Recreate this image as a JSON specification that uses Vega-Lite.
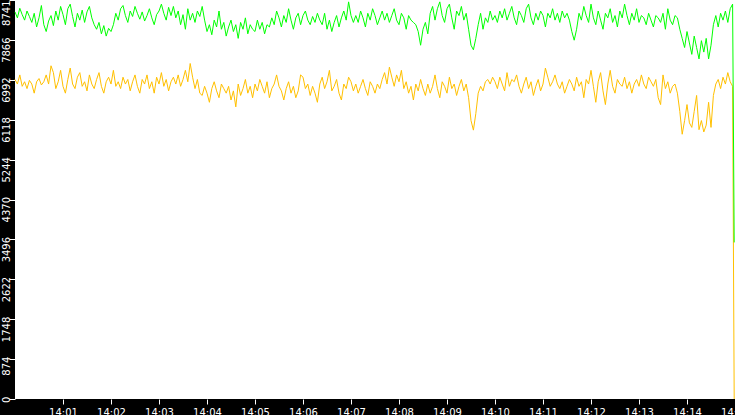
{
  "$schema": "https://vega.github.io/schema/vega-lite/v6.json",
  "width": 720,
  "height": 399,
  "autosize": {"type": "none"},
  "padding": {"left": 15, "top": 0, "right": 0, "bottom": 16},
  "background": "black",
  "config": {
    "view": {"fill": "white", "stroke": null},
    "axis": {"grid": false, "domain": false}
  },
  "data": {
    "values": [
      {"t":0,"g":8480,"o":7000},{"t":3,"g":8350,"o":6900},{"t":6,"g":8560,"o":7100},{"t":9,"g":8420,"o":6850},{"t":12,"g":8300,"o":6950},
      {"t":15,"g":8500,"o":6800},{"t":18,"g":8380,"o":6980},{"t":21,"g":8250,"o":6900},{"t":24,"g":8450,"o":6700},{"t":27,"g":8150,"o":6950},
      {"t":30,"g":8350,"o":7020},{"t":33,"g":8620,"o":6880},{"t":36,"g":8200,"o":6950},{"t":39,"g":8050,"o":7100},{"t":42,"g":8280,"o":6900},
      {"t":45,"g":8400,"o":7300},{"t":48,"g":8180,"o":7150},{"t":51,"g":8500,"o":6800},{"t":54,"g":8300,"o":6950},{"t":57,"g":8600,"o":7200},
      {"t":60,"g":8420,"o":6850},{"t":63,"g":8200,"o":6700},{"t":66,"g":8550,"o":7000},{"t":69,"g":8650,"o":7250},{"t":72,"g":8380,"o":6900},
      {"t":75,"g":8150,"o":6800},{"t":78,"g":8450,"o":7050},{"t":81,"g":8300,"o":7150},{"t":84,"g":8520,"o":6850},{"t":87,"g":8250,"o":6950},
      {"t":90,"g":8480,"o":6750},{"t":93,"g":8600,"o":7100},{"t":96,"g":8350,"o":6900},{"t":99,"g":8200,"o":6800},{"t":102,"g":8100,"o":7000},
      {"t":105,"g":8250,"o":7150},{"t":108,"g":8000,"o":6850},{"t":111,"g":8180,"o":6700},{"t":114,"g":7950,"o":6950},{"t":117,"g":8120,"o":7050},
      {"t":120,"g":8050,"o":6900},{"t":123,"g":8200,"o":7200},{"t":126,"g":8450,"o":6850},{"t":129,"g":8300,"o":6950},{"t":132,"g":8550,"o":6800},
      {"t":135,"g":8620,"o":7050},{"t":138,"g":8400,"o":6900},{"t":141,"g":8250,"o":7000},{"t":144,"g":8500,"o":6750},{"t":147,"g":8380,"o":6950},
      {"t":150,"g":8600,"o":7100},{"t":153,"g":8450,"o":6850},{"t":156,"g":8320,"o":6700},{"t":159,"g":8480,"o":7000},{"t":162,"g":8280,"o":6900},
      {"t":165,"g":8400,"o":7100},{"t":168,"g":8550,"o":6800},{"t":171,"g":8350,"o":6950},{"t":174,"g":8200,"o":6700},{"t":177,"g":8420,"o":7050},
      {"t":180,"g":8500,"o":6900},{"t":183,"g":8650,"o":7150},{"t":186,"g":8450,"o":6850},{"t":189,"g":8300,"o":7000},{"t":192,"g":8580,"o":6750},
      {"t":195,"g":8400,"o":6950},{"t":198,"g":8600,"o":7050},{"t":201,"g":8350,"o":6900},{"t":204,"g":8500,"o":7100},{"t":207,"g":8200,"o":6850},
      {"t":210,"g":8420,"o":7000},{"t":213,"g":8100,"o":7200},{"t":216,"g":8550,"o":6950},{"t":219,"g":8300,"o":7350},{"t":222,"g":8450,"o":7050},
      {"t":225,"g":8250,"o":6800},{"t":228,"g":8500,"o":7000},{"t":231,"g":8380,"o":6700},{"t":234,"g":8600,"o":6650},{"t":237,"g":8300,"o":6850},
      {"t":240,"g":8050,"o":6700},{"t":243,"g":8200,"o":6500},{"t":246,"g":7980,"o":6800},{"t":249,"g":8300,"o":6950},{"t":252,"g":8150,"o":6750},
      {"t":255,"g":8500,"o":6600},{"t":258,"g":8100,"o":6900},{"t":261,"g":8250,"o":6800},{"t":264,"g":7950,"o":6700},{"t":267,"g":8150,"o":6850},
      {"t":270,"g":8300,"o":6550},{"t":273,"g":8050,"o":6750},{"t":276,"g":8200,"o":6400},{"t":279,"g":7900,"o":6900},{"t":282,"g":8250,"o":6650},
      {"t":285,"g":8100,"o":6800},{"t":288,"g":8350,"o":7000},{"t":291,"g":8000,"o":6700},{"t":294,"g":8200,"o":6850},{"t":297,"g":8100,"o":6600},
      {"t":300,"g":8050,"o":6900},{"t":303,"g":8300,"o":6750},{"t":306,"g":8100,"o":7000},{"t":309,"g":8250,"o":6850},{"t":312,"g":8000,"o":6700},
      {"t":315,"g":8200,"o":6950},{"t":318,"g":8150,"o":6600},{"t":321,"g":8350,"o":6800},{"t":324,"g":8200,"o":6900},{"t":327,"g":8500,"o":7100},
      {"t":330,"g":8350,"o":6850},{"t":333,"g":8150,"o":6750},{"t":336,"g":8400,"o":6550},{"t":339,"g":8250,"o":6800},{"t":342,"g":8550,"o":6950},
      {"t":345,"g":8300,"o":6700},{"t":348,"g":8100,"o":6850},{"t":351,"g":8350,"o":6600},{"t":354,"g":8450,"o":6750},{"t":357,"g":8200,"o":7100},
      {"t":360,"g":8400,"o":7050},{"t":363,"g":8500,"o":6800},{"t":366,"g":8300,"o":6900},{"t":369,"g":8200,"o":6650},{"t":372,"g":8380,"o":6850},
      {"t":375,"g":8250,"o":6700},{"t":378,"g":8450,"o":6500},{"t":381,"g":8300,"o":6900},{"t":384,"g":8200,"o":7050},{"t":387,"g":8450,"o":6800},
      {"t":390,"g":8100,"o":6950},{"t":393,"g":8300,"o":7200},{"t":396,"g":8050,"o":6750},{"t":399,"g":8250,"o":6850},{"t":402,"g":8400,"o":7000},
      {"t":405,"g":8150,"o":6700},{"t":408,"g":8350,"o":6550},{"t":411,"g":8500,"o":6900},{"t":414,"g":8300,"o":6800},{"t":417,"g":8700,"o":7050},
      {"t":420,"g":8400,"o":6950},{"t":423,"g":8250,"o":6750},{"t":426,"g":8400,"o":6900},{"t":429,"g":8250,"o":6700},{"t":432,"g":8500,"o":6850},
      {"t":435,"g":8350,"o":7000},{"t":438,"g":8150,"o":6800},{"t":441,"g":8450,"o":6650},{"t":444,"g":8300,"o":6950},{"t":447,"g":8550,"o":6850},
      {"t":450,"g":8400,"o":6700},{"t":453,"g":8200,"o":6900},{"t":456,"g":8350,"o":6800},{"t":459,"g":8500,"o":7000},{"t":462,"g":8300,"o":7150},
      {"t":465,"g":8450,"o":6900},{"t":468,"g":8250,"o":7270},{"t":471,"g":8400,"o":7050},{"t":474,"g":8550,"o":6850},{"t":477,"g":8300,"o":7100},
      {"t":480,"g":8200,"o":6950},{"t":483,"g":8450,"o":7200},{"t":486,"g":8350,"o":6800},{"t":489,"g":8100,"o":6950},{"t":492,"g":8400,"o":6700},
      {"t":495,"g":8300,"o":6850},{"t":498,"g":8250,"o":6550},{"t":501,"g":8200,"o":6900},{"t":504,"g":8050,"o":6750},{"t":507,"g":7750,"o":7000},
      {"t":510,"g":8100,"o":6800},{"t":513,"g":8250,"o":6650},{"t":516,"g":8000,"o":6900},{"t":519,"g":8450,"o":6700},{"t":522,"g":8600,"o":6850},
      {"t":525,"g":8300,"o":7100},{"t":528,"g":8550,"o":6800},{"t":531,"g":8700,"o":6600},{"t":534,"g":8400,"o":6950},{"t":537,"g":8250,"o":6850},
      {"t":540,"g":8550,"o":6700},{"t":543,"g":8650,"o":7050},{"t":546,"g":8350,"o":6800},{"t":549,"g":8100,"o":6900},{"t":552,"g":8500,"o":6650},
      {"t":555,"g":8400,"o":6850},{"t":558,"g":8600,"o":7000},{"t":561,"g":8300,"o":6750},{"t":564,"g":8450,"o":6900},{"t":567,"g":8100,"o":6600},
      {"t":570,"g":7750,"o":6100},{"t":573,"g":7650,"o":5890},{"t":576,"g":7900,"o":6250},{"t":579,"g":8200,"o":6700},{"t":582,"g":8450,"o":6850},
      {"t":585,"g":8100,"o":6750},{"t":588,"g":8350,"o":6950},{"t":591,"g":8250,"o":7000},{"t":594,"g":8500,"o":6900},{"t":597,"g":8300,"o":7050},
      {"t":600,"g":8400,"o":6950},{"t":603,"g":8250,"o":6800},{"t":606,"g":8500,"o":7050},{"t":609,"g":8350,"o":6900},{"t":612,"g":8550,"o":6750},
      {"t":615,"g":8300,"o":7150},{"t":618,"g":8450,"o":6850},{"t":621,"g":8600,"o":7000},{"t":624,"g":8350,"o":6950},{"t":627,"g":8200,"o":7100},
      {"t":630,"g":8500,"o":6850},{"t":633,"g":8400,"o":6700},{"t":636,"g":8250,"o":6900},{"t":639,"g":8550,"o":7050},{"t":642,"g":8650,"o":6800},
      {"t":645,"g":8350,"o":6950},{"t":648,"g":8200,"o":6650},{"t":651,"g":8450,"o":6850},{"t":654,"g":8300,"o":7000},{"t":657,"g":8500,"o":6750},
      {"t":660,"g":8400,"o":6900},{"t":663,"g":8150,"o":7250},{"t":666,"g":8450,"o":7050},{"t":669,"g":8350,"o":6850},{"t":672,"g":8550,"o":6950},
      {"t":675,"g":8300,"o":7100},{"t":678,"g":8450,"o":6900},{"t":681,"g":8250,"o":6800},{"t":684,"g":8500,"o":6950},{"t":687,"g":8350,"o":6700},
      {"t":690,"g":8450,"o":6850},{"t":693,"g":8300,"o":7000},{"t":696,"g":8050,"o":6900},{"t":699,"g":7860,"o":6750},{"t":702,"g":8100,"o":7050},
      {"t":705,"g":8450,"o":6850},{"t":708,"g":8300,"o":6950},{"t":711,"g":8600,"o":6600},{"t":714,"g":8400,"o":7000},{"t":717,"g":8250,"o":6900},
      {"t":720,"g":8650,"o":7200},{"t":723,"g":8350,"o":6850},{"t":726,"g":8200,"o":6500},{"t":729,"g":8500,"o":6950},{"t":732,"g":8300,"o":7150},
      {"t":735,"g":8100,"o":6750},{"t":738,"g":8450,"o":6450},{"t":741,"g":8350,"o":6900},{"t":744,"g":8550,"o":7200},{"t":747,"g":8250,"o":6850},
      {"t":750,"g":8400,"o":6700},{"t":753,"g":8150,"o":7000},{"t":756,"g":8500,"o":6900},{"t":759,"g":8350,"o":6850},{"t":762,"g":8650,"o":7050},
      {"t":765,"g":8400,"o":6800},{"t":768,"g":8200,"o":6950},{"t":771,"g":8450,"o":6700},{"t":774,"g":8300,"o":6900},{"t":777,"g":8550,"o":7000},
      {"t":780,"g":8250,"o":6850},{"t":783,"g":8400,"o":7100},{"t":786,"g":8350,"o":6900},{"t":789,"g":8200,"o":6800},{"t":792,"g":8450,"o":7050},
      {"t":795,"g":8300,"o":6950},{"t":798,"g":8150,"o":6850},{"t":801,"g":8400,"o":7000},{"t":804,"g":8350,"o":6600},{"t":807,"g":8250,"o":6450},
      {"t":810,"g":8450,"o":7100},{"t":813,"g":8100,"o":6800},{"t":816,"g":8550,"o":6950},{"t":819,"g":8300,"o":6700},{"t":822,"g":8200,"o":6850},
      {"t":825,"g":8400,"o":6900},{"t":828,"g":8350,"o":6700},{"t":831,"g":8100,"o":6300},{"t":834,"g":7900,"o":5800},{"t":837,"g":7700,"o":6100},
      {"t":840,"g":8050,"o":6450},{"t":843,"g":7800,"o":6050},{"t":846,"g":7550,"o":5950},{"t":849,"g":7950,"o":6300},{"t":852,"g":7700,"o":6650},
      {"t":855,"g":7450,"o":5900},{"t":858,"g":7850,"o":6100},{"t":861,"g":7600,"o":5850},{"t":864,"g":7900,"o":6000},{"t":867,"g":7450,"o":6500},
      {"t":870,"g":7750,"o":5950},{"t":873,"g":8200,"o":6650},{"t":876,"g":8400,"o":6900},{"t":879,"g":8150,"o":7000},{"t":882,"g":8450,"o":6800},
      {"t":885,"g":8300,"o":7050},{"t":888,"g":8500,"o":6900},{"t":891,"g":8250,"o":7150},{"t":894,"g":8550,"o":6950},{"t":897,"g":8650,"o":6850},
      {"t":899,"g":3430,"o":0}
    ]
  },
  "encoding": {
    "x": {
      "field": "t",
      "type": "quantitative",
      "scale": {"domain": [0, 900], "nice": false, "zero": false},
      "axis": {
        "title": null,
        "values": [60, 120, 180, 240, 300, 360, 420, 480, 540, 600, 660, 720, 780, 840, 900],
        "labelExpr": "'14:' + (datum.value < 600 ? '0' : '') + datum.value / 60",
        "tickColor": "white",
        "tickSize": 5,
        "labelColor": "white",
        "labelFont": "DejaVu Sans",
        "labelFontSize": 10,
        "labelPadding": 3,
        "labelFlush": false,
        "labelOverlap": false,
        "labelBound": false
      }
    }
  },
  "layer": [
    {
      "mark": {"type": "line", "color": "#ffc000", "strokeWidth": 1},
      "encoding": {
        "y": {
          "field": "o",
          "type": "quantitative",
          "scale": {"domain": [0, 8741], "nice": false},
          "axis": {
            "title": null,
            "values": [0, 874.1, 1748.2, 2622.3, 3496.4, 4370.5, 5244.6, 6118.7, 6992.8, 7866.9, 8741],
            "labelExpr": "floor(datum.value)",
            "tickColor": "white",
            "tickSize": 6,
            "labelColor": "white",
            "labelFont": "DejaVu Sans",
            "labelFontSize": 10,
            "labelAngle": 270,
            "labelAlign": "right",
            "labelBaseline": "alphabetic",
            "labelPadding": 0,
            "labelOffset": {"condition": {"test": "datum.value > 8700", "value": 0}, "value": -3},
            "labelOverlap": false
          }
        }
      }
    },
    {
      "mark": {"type": "line", "color": "#00ff00", "strokeWidth": 1},
      "encoding": {
        "y": {
          "field": "g",
          "type": "quantitative",
          "scale": {"domain": [0, 8741], "nice": false},
          "axis": {
            "title": null,
            "values": [0, 874.1, 1748.2, 2622.3, 3496.4, 4370.5, 5244.6, 6118.7, 6992.8, 7866.9, 8741],
            "labelExpr": "floor(datum.value)",
            "tickColor": "white",
            "tickSize": 6,
            "labelColor": "white",
            "labelFont": "DejaVu Sans",
            "labelFontSize": 10,
            "labelAngle": 270,
            "labelAlign": "right",
            "labelBaseline": "alphabetic",
            "labelPadding": 0,
            "labelOffset": {"condition": {"test": "datum.value > 8700", "value": 0}, "value": -3},
            "labelOverlap": false
          }
        }
      }
    }
  ]
}
